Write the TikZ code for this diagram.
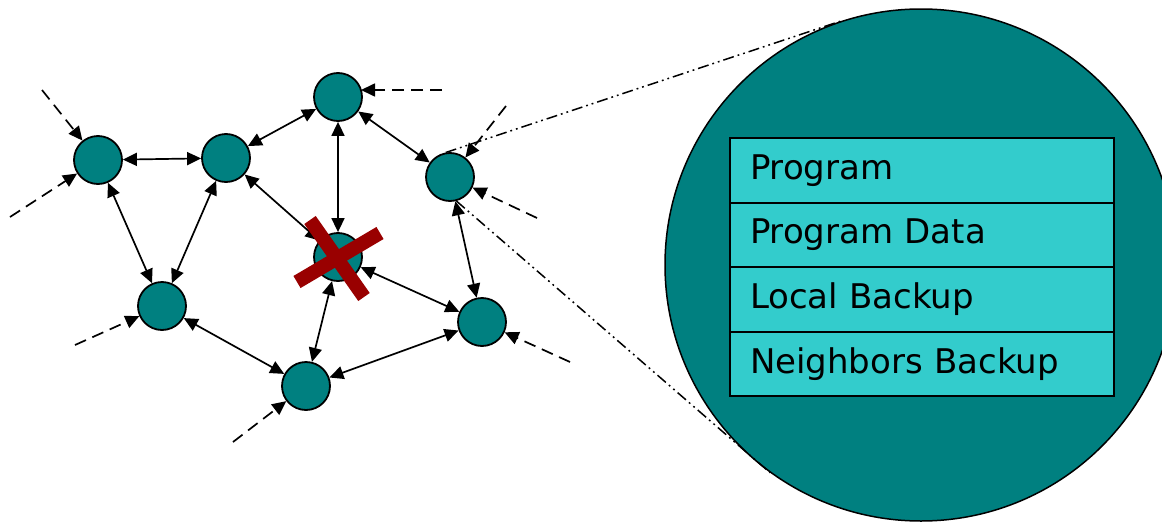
\documentclass[tikz,border=0pt]{standalone}
\usepackage{fontspec}
\setmainfont{DejaVu Sans}
\usetikzlibrary{arrows.meta}
\definecolor{nodeteal}{HTML}{008080}
\definecolor{cellcyan}{HTML}{33CCCC}
\definecolor{crossred}{HTML}{990000}

\begin{document}
\begin{tikzpicture}[x=1pt,y=-1pt,
  peer/.style={circle, draw=black, line width=1.8pt, fill=nodeteal, minimum size=48pt, inner sep=0pt},
  link/.style={line width=1.7pt, {Triangle[length=14pt,width=13pt]}-{Triangle[length=14pt,width=13pt]}},
  feed/.style={line width=1.7pt, dash pattern=on 12pt off 7pt, -{Triangle[length=14pt,width=13pt]}},
  zoomline/.style={line width=1.5pt, dash pattern=on 11pt off 4pt on 1.8pt off 4pt on 1.8pt off 4pt},
  cell/.style={rectangle, draw=black, line width=2pt, fill=cellcyan, minimum width=384pt, minimum height=64.5pt, text width=344pt, inner xsep=20pt, inner ysep=0pt, align=left, font=\fontsize{34}{40}\selectfont},
  failmark/.style={crossred, line width=14pt},
  ]
\useasboundingbox (0,0) rectangle (1162,522);

% magnified view of one node's memory
\node[circle, draw=black, line width=1.5pt, fill=nodeteal, minimum size=512pt, inner sep=0pt] (big) at (921,265) {};
\node[cell] (r1) at (922,170.5) {Program};
\node[cell] (r2) at (922,235) {Program Data};
\node[cell] (r3) at (922,299.5) {Local Backup};
\node[cell] (r4) at (922,364) {Neighbors Backup};

% peers of the network
\node[peer] (A) at (98,160) {};
\node[peer] (B) at (226,158) {};
\node[peer] (C) at (338,97) {};
\node[peer] (D) at (450,177) {};
\node[peer] (X) at (338,257) {};
\node[peer] (E) at (162,306) {};
\node[peer] (F) at (482,322) {};
\node[peer] (G) at (306,386) {};

% links between peers
\draw[link] (A) -- (B);
\draw[link] (A) -- (E);
\draw[link] (B) -- (E);
\draw[link] (B) -- (C);
\draw[link] (B) -- (X);
\draw[link] (C) -- (X);
\draw[link] (C) -- (D);
\draw[link] (D) -- (F);
\draw[link] (X) -- (F);
\draw[link] (X) -- (G);
\draw[link] (E) -- (G);
\draw[link] (G) -- (F);

% incoming connections from outside
\coordinate (a1) at (42,90);
\coordinate (a2) at (10,217);
\coordinate (c1) at (442,90);
\coordinate (c2) at (361,90);
\coordinate (d1) at (506,106);
\coordinate (d2) at (537,218);
\coordinate (e1) at (75,345);
\coordinate (f1) at (570,362);
\coordinate (g1) at (233,442);
\draw[feed] (a1) -- (A);
\draw[feed] (a2) -- (A);
\draw[feed] (c1) -- (c2);
\draw[feed] (d1) -- (D);
\draw[feed] (d2) -- (D);
\draw[feed] (e1) -- (E);
\draw[feed] (f1) -- (F);
\draw[feed] (g1) -- (G);

% zoom lines to the magnified view
\draw[zoomline] (D.100) -- (big.108);
\draw[zoomline] (D.-75) -- (big.-126);

% failed peer
\draw[failmark] ([shift={(-28,-37)}]X.center) -- ([shift={(26,40)}]X.center);
\draw[failmark] ([shift={(-41,25)}]X.center) -- ([shift={(42,-24)}]X.center);
\end{tikzpicture}
\end{document}
